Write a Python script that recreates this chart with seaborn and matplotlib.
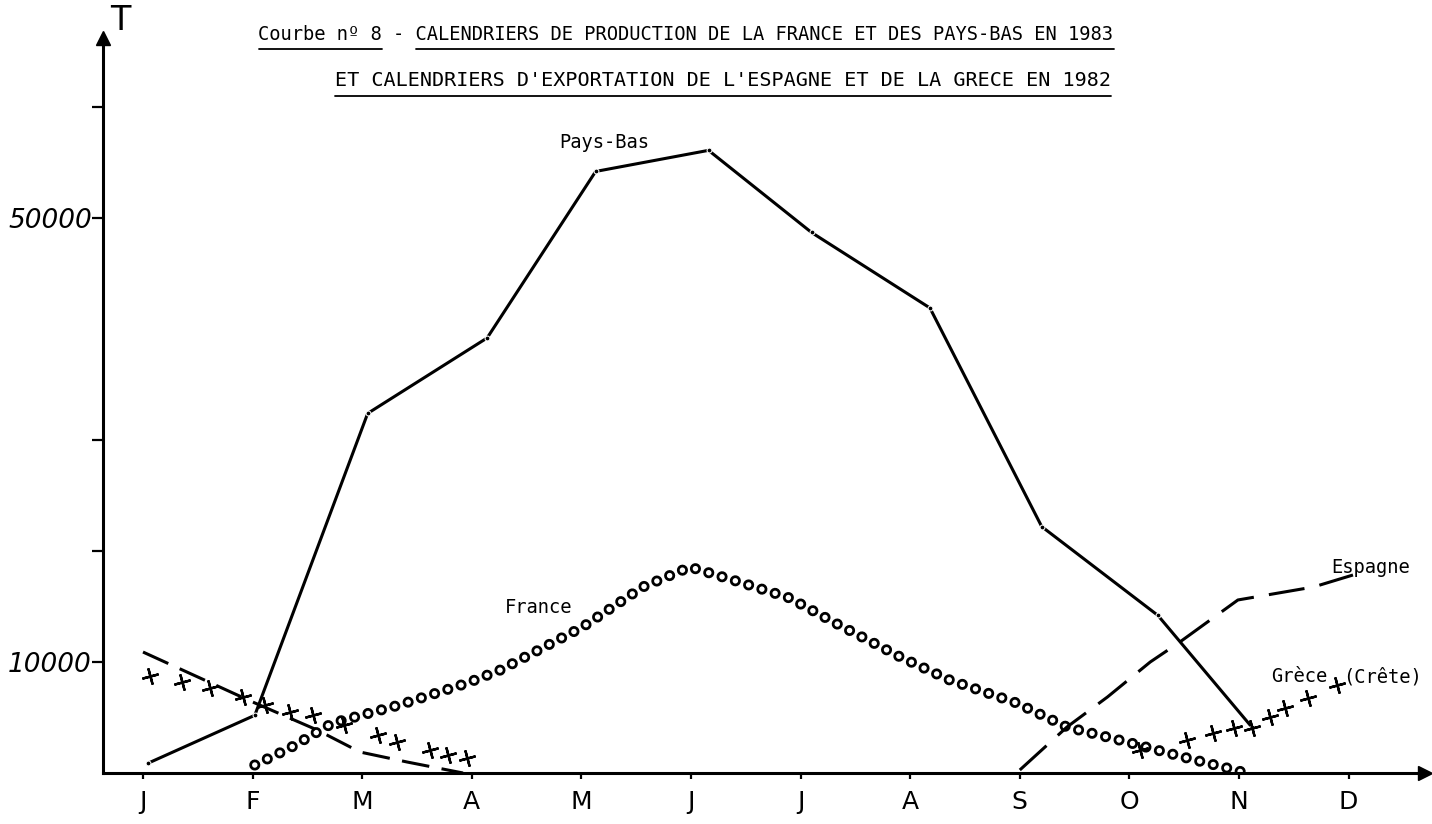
import numpy as np
import pandas as pd
import matplotlib
matplotlib.use("Agg")
import matplotlib.pyplot as plt
import seaborn as sns
from matplotlib.lines import Line2D

# month axis: 0 = janvier ... 11 = decembre, values in tonnes
months = ['J', 'F', 'M', 'A', 'M', 'J', 'J', 'A', 'S', 'O', 'N', 'D']

pays_bas_x = [0.05, 1.02, 2.05, 3.14, 4.13, 5.16, 6.10, 7.18, 8.20, 9.26, 10.12]
pays_bas_t = [900, 5200, 32400, 39200, 54200, 56100, 48700, 41900, 22200, 14200, 4100]

france_x = [1.02, 1.34, 1.73, 2.34, 2.96, 3.26, 4.01, 4.56, 4.99, 5.47, 5.90, 6.30,
            6.91, 7.36, 7.97, 8.43, 8.98, 9.49, 9.89, 10.03]
france_t = [720, 2250, 4500, 6130, 8110, 9280, 13150, 16760, 18560, 17120, 15770, 13600,
            10450, 8380, 6310, 4140, 2790, 1440, 450, 90]

espagne_hiver_x = [0.0, 1.0, 1.59, 1.98, 2.41, 2.92]
espagne_hiver_t = [10900, 6400, 3870, 1890, 990, 0]
espagne_automne_x = [8.0, 8.43, 8.80, 9.19, 9.46, 9.99, 10.68, 11.04]
espagne_automne_t = [270, 4140, 6850, 10000, 11800, 15590, 16760, 17840]

grece_hiver_x = [0.06, 0.36, 0.61, 0.91, 1.11, 1.34, 1.55, 1.83, 2.14, 2.32, 2.62, 2.78, 2.96]
grece_hiver_t = [8740, 8200, 7660, 6850, 6130, 5500, 5230, 4320, 3420, 2790, 2070, 1620, 1350]
grece_automne_x = [9.10, 9.53, 9.76, 9.95, 10.12, 10.28, 10.42, 10.63, 10.89]
grece_automne_t = [2070, 2970, 3600, 4050, 4050, 5050, 5860, 6760, 7930]

y_ticks = [10000, 20000, 30000, 50000, 60000]
y_tick_labels = ['10000', '', '', '50000', '']

title_1 = "Courbe nº 8 - CALENDRIERS DE PRODUCTION DE LA FRANCE ET DES PAYS-BAS EN 1983"
title_2 = "ET CALENDRIERS D'EXPORTATION DE L'ESPAGNE ET DE LA GRECE EN 1982"

sns.set_theme(style="white")
plt.rcParams['font.family'] = ['DejaVu Sans']
plt.rcParams['lines.scale_dashes'] = False
plt.rcParams['text.color'] = 'black'
plt.rcParams['xtick.color'] = 'black'
plt.rcParams['ytick.color'] = 'black'

W, H = 1432, 824
fig = plt.figure(figsize=(W / 100, H / 100), dpi=100)
x0_px, x1_px, y0_px, y1_px = 103, 1425, 773, 38
ax = fig.add_axes([x0_px / W, 1 - y0_px / H, (x1_px - x0_px) / W, (y0_px - y1_px) / H])
ax.set_xlim((x0_px - 143) / 109.6, (x1_px - 143) / 109.6)
ax.set_ylim(0, (y0_px - y1_px) * 90.1)

# France: hollow circles drawn as a dotted stroke with a white core
sns.lineplot(x=france_x, y=france_t, ax=ax, color='black', lw=8.0, sort=False)
sns.lineplot(x=france_x, y=france_t, ax=ax, color='white', lw=4.0, sort=False)
for ln in ax.lines[-2:]:
    ln.set_linestyle((0, (0.01, 10.0)))
    ln.set_dash_capstyle('round')

# Pays-Bas
sns.lineplot(x=pays_bas_x, y=pays_bas_t, ax=ax, color='black', lw=2.2, sort=False,
             marker='o', markersize=3.5)

# Espagne
for ex, et, pattern in [(espagne_hiver_x, espagne_hiver_t, (0, (20, 9))),
                        (espagne_automne_x, espagne_automne_t, (0, (26, 11)))]:
    sns.lineplot(x=ex, y=et, ax=ax, color='black', lw=2.2, sort=False)
    ax.lines[-1].set_linestyle(pattern)

# Grece (Crete): crosses
for gx, gt in [(grece_hiver_x, grece_hiver_t), (grece_automne_x, grece_automne_t)]:
    sns.scatterplot(x=gx, y=gt, ax=ax, marker=(4, 2, 15), s=120, color='black',
                    edgecolor='black', linewidth=1.7, zorder=4)

# axes drawn as arrows
sns.despine(ax=ax)
for side in ['left', 'bottom']:
    ax.spines[side].set_linewidth(2.2)
    ax.spines[side].set_color('black')
ax.plot(1, 0, marker='>', color='black', ms=10, transform=ax.transAxes, clip_on=False)
ax.plot(0, 1, marker='^', color='black', ms=10, transform=ax.transAxes, clip_on=False)

ax.set_xticks(range(12))
ax.set_xticklabels(months, fontsize=18)
ax.set_yticks(y_ticks)
ax.set_yticklabels(y_tick_labels, fontsize=19, style='italic')
ax.tick_params(axis='x', direction='out', length=4, width=1.6, pad=8, color='black',
               labelcolor='black', bottom=True)
ax.tick_params(axis='y', direction='out', length=8, width=1.6, pad=0, color='black',
               labelcolor='black', left=True)
ax.grid(False)

# series labels
lab = dict(family='DejaVu Sans Mono', fontsize=13.5, color='black', va='center')
ax.text(4.21, 56850, 'Pays-Bas', ha='center', **lab)
ax.text(3.61, 14870, 'France', ha='center', **lab)
ax.text(11.2, 18560, 'Espagne', ha='center', **lab)
ax.text(10.55, 8650, 'Grèce', ha='center', **lab)
ax.text(11.31, 8650, '(Crête)', ha='center', **lab)

# unit and title
fig.text(120 / W, 1 - 20 / H, 'T', fontsize=24, ha='center', va='center', color='black')
t1 = fig.text(686 / W, 1 - 35 / H, title_1, family='DejaVu Sans Mono', fontsize=13.5,
              ha='center', va='center', color='black')
t2 = fig.text(723 / W, 1 - 81 / H, title_2, family='DejaVu Sans Mono', fontsize=14.5,
              ha='center', va='center', color='black')

fig.canvas.draw()
r = fig.canvas.get_renderer()


def underline(txt, start, stop, y_px):
    bb = txt.get_window_extent(r)
    cw = bb.width / len(txt.get_text())
    xa, xb = bb.x0 + start * cw, bb.x0 + stop * cw
    fig.add_artist(Line2D([xa / W, xb / W], [1 - y_px / H] * 2, color='black', lw=1.3))


underline(t1, 0, 11, 49)
underline(t1, 14, len(title_1), 49)
underline(t2, 0, len(title_2), 96)

fig.savefig('out.png', dpi=100)
